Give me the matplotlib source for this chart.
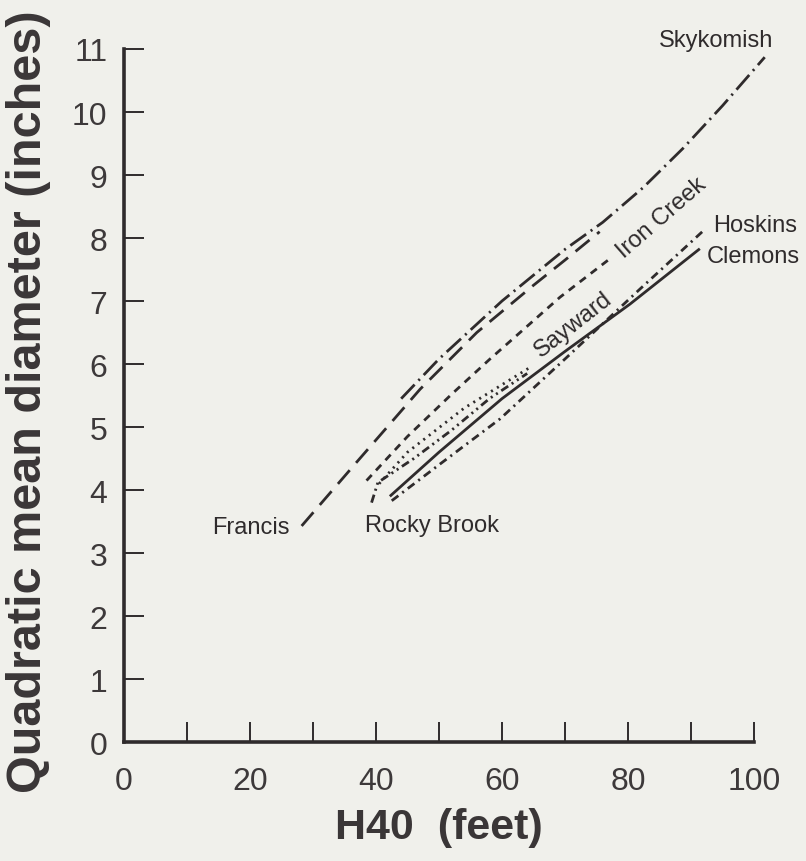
# 各立地 H40 与平方平均直径关系曲线：plot.py
import matplotlib
matplotlib.use('Agg')
import matplotlib.pyplot as plt

plt.rcParams['font.family'] = ['Liberation Sans', 'DejaVu Sans']
plt.rcParams['lines.scale_dashes'] = False

# 数据 (H40 英尺, 平方平均直径 英寸)
francis_h40 = [28.2, 37, 47, 56, 65, 70, 75.5]
francis_qmd = [3.43, 4.45, 5.6, 6.5, 7.25, 7.65, 8.1]

skykomish_h40 = [44, 50, 60, 70, 76, 82.4, 88.7, 95, 101.7]
skykomish_qmd = [5.45, 6.08, 7.0, 7.82, 8.25, 8.8, 9.42, 10.1, 10.87]

iron_h40 = [38.5, 45, 52, 58.1, 64, 69.2, 77.5]
iron_qmd = [4.15, 4.85, 5.52, 6.08, 6.6, 7.06, 7.7]

sayward_h40 = [40.5, 45, 54, 64.5]
sayward_qmd = [4.1, 4.6, 5.3, 5.95]

rocky_h40 = [39.3, 40.3, 46, 52, 58, 64]
rocky_qmd = [3.8, 4.12, 4.5, 4.95, 5.45, 5.85]

clemons_h40 = [42.2, 50, 60, 70, 80.3, 91.4]
clemons_qmd = [3.9, 4.6, 5.45, 6.2, 6.95, 7.83]

hoskins_h40 = [42.5, 50, 59.7, 70, 81.9, 91.9]
hoskins_qmd = [3.83, 4.4, 5.13, 6.08, 7.19, 8.11]

x_ticks = list(range(0, 101, 10))
x_ticklabels = ['0', '', '20', '', '40', '', '60', '', '80', '', '100']
y_ticks = list(range(0, 12))

bg = '#f0f0eb'
ink = '#2f2b2c'

fig = plt.figure(figsize=(8.06, 8.62), dpi=100, facecolor=bg)
ax = fig.add_axes([0.1538, 0.138, 0.7817, 0.804], facecolor=bg)

lw = 2.0
common = dict(color=ink, lw=lw, clip_on=False, dash_capstyle='butt',
              solid_capstyle='butt')
ax.plot(francis_h40, francis_qmd, linestyle=(0, (13, 7)), **common)
ax.plot(skykomish_h40, skykomish_qmd, linestyle=(0, (14, 4, 1.5, 4)), **common)
ax.plot(iron_h40, iron_qmd, linestyle=(0, (5.5, 4.5)), **common)
ax.plot(sayward_h40, sayward_qmd, linestyle=(0, (1.5, 3.5)), **common)
ax.plot(rocky_h40, rocky_qmd, linestyle=(0, (6, 3, 1.5, 3, 1.5, 3)), **common)
ax.plot(clemons_h40, clemons_qmd, linestyle='-', **common)
ax.plot(hoskins_h40, hoskins_qmd, linestyle=(0, (6, 3.5, 1.5, 3.5)), **common)

# 曲线标注
lab = dict(fontsize=17, color=ink)
ax.text(103, 11.05, 'Skykomish', ha='right', va='baseline', **lab)
ax.text(26.3, 3.41, 'Francis', ha='right', va='center', **lab)
ax.text(38.3, 3.44, 'Rocky Brook', ha='left', va='center', **lab)
ax.text(93.5, 8.2, 'Hoskins', ha='left', va='center', **lab)
ax.text(92.5, 7.71, 'Clemons', ha='left', va='center', **lab)
ax.text(85.4, 8.33, 'Iron Creek', ha='center', va='center',
        rotation=41, rotation_mode='anchor', **lab)
ax.text(71.3, 6.63, 'Sayward', ha='center', va='center',
        rotation=38, rotation_mode='anchor', **lab)

# 坐标轴
ax.set_xlim(0, 100)
ax.set_ylim(0, 11)
ax.set_xticks(x_ticks)
ax.set_xticklabels(x_ticklabels)
ax.set_yticks(y_ticks)
for s in ['top', 'right']:
    ax.spines[s].set_visible(False)
for s in ['left', 'bottom']:
    ax.spines[s].set_linewidth(2.6)
    ax.spines[s].set_color(ink)
ax.tick_params(axis='both', direction='in', length=14.5, width=1.4,
               color=ink, labelcolor='#3d393a', labelsize=23)
ax.tick_params(axis='x', pad=17)
ax.tick_params(axis='y', pad=12)

fig.text(0.545, 0.040, 'H40  (feet)', ha='center', va='center',
         fontsize=31, fontweight='bold', color='#3a3637')
fig.text(0.035, 0.534, 'Quadratic mean diameter (inches)', ha='center',
         va='center', rotation=90, fontsize=35, fontweight='bold',
         color='#3a3637')

fig.savefig('out.png', dpi=100, facecolor=bg)
